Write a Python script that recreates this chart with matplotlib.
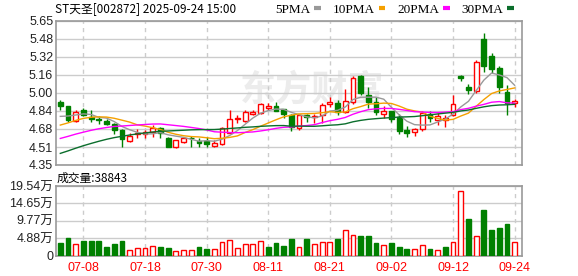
import matplotlib
matplotlib.use("Agg")
import matplotlib.pyplot as plt
import numpy as np
import pandas as pd
from matplotlib.lines import Line2D

plt.rcParams['font.family'] = ['Liberation Sans', 'Noto Sans CJK SC']

# --- data (ST天圣 002872, daily, 2025-07-03 .. 2025-09-24) ---
dates = pd.bdate_range("2025-07-03", "2025-09-24")
opens = [4.916, 4.883, 4.747, 4.846, 4.780, 4.762, 4.747, 4.720, 4.666, 4.569,
         4.627, 4.630, 4.650, 4.681, 4.596, 4.515, 4.560, 4.598, 4.567, 4.570,
         4.524, 4.537, 4.641, 4.765, 4.750, 4.810, 4.822, 4.862, 4.885, 4.853,
         4.800, 4.681, 4.800, 4.780, 4.801, 4.900, 4.913, 4.831, 4.922, 5.153,
         4.982, 4.922, 4.808, 4.837, 4.786, 4.666, 4.650, 4.672, 4.810, 4.756,
         4.756, 4.801, 5.153, 5.050, 5.020, 5.487, 5.337, 5.223, 5.006, 4.907]
highs = [4.934, 4.886, 4.850, 4.867, 4.846, 4.795, 4.762, 4.726, 4.672, 4.636,
         4.672, 4.666, 4.715, 4.696, 4.600, 4.580, 4.605, 4.610, 4.590, 4.600,
         4.578, 4.696, 4.846, 4.800, 4.846, 4.846, 4.907, 4.907, 4.920, 4.860,
         4.810, 4.810, 4.810, 4.810, 4.907, 4.967, 4.937, 5.040, 5.150, 5.160,
         5.050, 4.967, 4.883, 4.840, 4.810, 4.700, 4.681, 4.840, 4.840, 4.816,
         4.800, 4.982, 5.163, 5.080, 5.300, 5.540, 5.360, 5.240, 5.070, 4.943]
lows = [4.846, 4.740, 4.735, 4.795, 4.740, 4.717, 4.711, 4.627, 4.515, 4.560,
        4.591, 4.596, 4.606, 4.596, 4.510, 4.505, 4.550, 4.515, 4.515, 4.515,
        4.515, 4.530, 4.636, 4.731, 4.740, 4.800, 4.810, 4.850, 4.835, 4.770,
        4.660, 4.670, 4.740, 4.730, 4.727, 4.876, 4.800, 4.817, 4.900, 4.980,
        4.862, 4.800, 4.771, 4.740, 4.632, 4.600, 4.615, 4.660, 4.740, 4.710,
        4.696, 4.790, 5.110, 4.990, 5.000, 5.190, 5.183, 5.000, 4.801, 4.871]
closes = [4.885, 4.756, 4.826, 4.801, 4.763, 4.754, 4.723, 4.669, 4.582, 4.614,
          4.636, 4.645, 4.681, 4.636, 4.515, 4.576, 4.590, 4.592, 4.550, 4.540,
          4.551, 4.681, 4.762, 4.770, 4.826, 4.831, 4.898, 4.883, 4.840, 4.808,
          4.696, 4.800, 4.780, 4.795, 4.892, 4.920, 4.831, 4.928, 5.133, 4.997,
          4.922, 4.831, 4.837, 4.763, 4.660, 4.636, 4.675, 4.817, 4.771, 4.792,
          4.771, 4.898, 5.138, 5.027, 5.277, 5.243, 5.217, 5.050, 4.907, 4.930]
volumes = [35000, 48000, 31000, 42000, 42000, 40000, 25000, 31000, 40000, 16000,
           22000, 22000, 27000, 23000, 20000, 13000, 16000, 16000, 23000, 17000,
           19000, 39000, 44000, 22000, 33000, 33000, 42000, 25000, 34000, 28000,
           45000, 25000, 45000, 31000, 39000, 39000, 45000, 73000, 59000, 54000,
           54000, 34000, 30000, 34000, 25000, 17000, 19000, 30000, 17000, 16000,
           25000, 39000, 180000, 102000, 56000, 127000, 71000, 76000, 88000, 38843]
# closes before the window, estimated from where the MA lines start on the left edge
pre_closes = [4.08, 4.10, 4.12, 4.15, 4.17, 4.19, 4.21, 4.23, 4.26, 4.34,
              4.38, 4.42, 4.45, 4.43, 4.47, 4.50, 4.48, 4.50, 4.52, 4.54,
              4.56, 4.60, 4.62, 4.66, 4.72, 4.74, 4.78, 4.75, 4.79]
ma_periods = [5, 10, 20, 30]
price_ticks = ["4.35", "4.51", "4.68", "4.84", "5.00", "5.16", "5.32", "5.48", "5.65"]
vol_ticks = ["0", "4.88万", "9.77万", "14.65万", "19.54万"]

RED, GREEN = "#ff0000", "#008000"
MA_COLORS = ["#999999", "#f5a000", "#ff00ff", "#0b6e2c"]
GRID = "#cccccc"
FRAME = "#999999"

o = np.array(opens); h = np.array(highs); l = np.array(lows); c = np.array(closes)
v = np.array(volumes)
x = np.arange(len(c))
up = c >= o
prev = np.concatenate([[o[0]], c[:-1]])
vup = c >= prev

allc = pd.Series(pre_closes + closes)
mas = [allc.rolling(p).mean().to_numpy()[-len(c):] for p in ma_periods]

fig = plt.figure(figsize=(5.78, 2.76), dpi=100)
W, H = 578, 276
ax = fig.add_axes([56 / W, 1 - 165 / H, 466 / W, 144 / H])
axv = fig.add_axes([56 / W, 1 - 255.5 / H, 466 / W, 69.5 / H])

tick_idx = np.arange(3, len(c), 8)

# candles
ccol = np.where(up, RED, GREEN)
ax.vlines(x, l, h, colors=ccol, lw=1, zorder=2)
bh = np.maximum(np.abs(c - o), 0.004)
ax.bar(x, bh, bottom=np.minimum(o, c), width=0.62,
       color=np.where(up, "white", GREEN), edgecolor=ccol, lw=1, zorder=3)
for m, col in zip(mas, MA_COLORS):
    ax.plot(x, m, color=col, lw=1, zorder=4)

ax.set_ylim(4.35, 5.65)
ax.set_yticks(np.linspace(4.35, 5.65, len(price_ticks)))
ax.set_yticklabels(price_ticks)

# volume
vcol = np.where(vup, RED, GREEN)
axv.bar(x, v, width=0.62, color=np.where(vup, "white", GREEN), edgecolor=vcol,
        lw=1, zorder=3)
vmax = 195400
axv.set_ylim(0, vmax)
axv.set_yticks(np.linspace(0, vmax, len(vol_ticks)))
axv.set_yticklabels(vol_ticks)

for a in (ax, axv):
    a.set_facecolor("none")
    a.set_xlim(-0.56, len(c) - 0.05)
    a.set_xticks(tick_idx)
    a.grid(axis="y", color=GRID, lw=1, ls="-", zorder=0)
    a.grid(axis="x", color=GRID, lw=1, ls=(0, (3, 3)), zorder=0)
    a.set_axisbelow(True)
    for s in a.spines.values():
        s.set_color(FRAME)
        s.set_linewidth(1.2)
    a.tick_params(length=0, labelsize=9, colors="#222222", pad=2)

ax.set_xticklabels([])
axv.set_xticklabels([dates[i].strftime("%m-%d") for i in tick_idx], color=RED)
axv.tick_params(axis="x", pad=5, labelcolor=RED)

# watermark, behind the plot
fig.text(312 / W, 1 - 90 / H, "东方财富", fontsize=26, fontweight="bold",
         color="#ececec", ha="center", va="center", zorder=-1,
         family=["Noto Sans CJK SC"])

fig.text(55 / W, 1 - 9 / H, "ST天圣[002872] 2025-09-24 15:00", fontsize=8.5,
         va="center", ha="left", family=["Noto Sans CJK SC"])
fig.text(57 / W, 1 - 178 / H, f"成交量:{volumes[-1]}", fontsize=8.5,
         va="center", ha="left", family=["Noto Sans CJK SC"])

handles = [Line2D([0], [0], color=col, lw=3, solid_capstyle="butt") for col in MA_COLORS]
fig.legend(handles, [f"{p}PMA" for p in ma_periods], ncol=4, frameon=False,
           markerfirst=False, loc="center right", bbox_to_anchor=(514 / W, 1 - 9.5 / H),
           handlelength=0.5, handletextpad=0.3, columnspacing=0.9, borderaxespad=0,
           borderpad=0, prop={"family": "Liberation Serif", "size": 9.5})

fig.savefig("out.png", dpi=100)
